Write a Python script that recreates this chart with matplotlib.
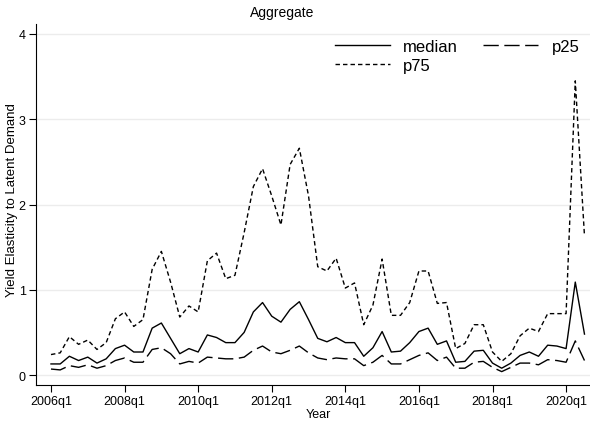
import matplotlib
matplotlib.use("Agg")
import matplotlib.pyplot as plt
import numpy as np

plt.rcParams['font.family'] = ['Liberation Sans', 'DejaVu Sans']

# quarterly series, 2006q1 .. 2020q3
start_year = 2006
median = [0.13, 0.13, 0.22, 0.17, 0.21, 0.14, 0.19, 0.31, 0.35, 0.27,
          0.27, 0.55, 0.61, 0.43, 0.25, 0.31, 0.27, 0.47, 0.44, 0.38,
          0.38, 0.50, 0.74, 0.85, 0.69, 0.62, 0.77, 0.86, 0.65, 0.43,
          0.39, 0.44, 0.38, 0.38, 0.22, 0.32, 0.51, 0.27, 0.28, 0.38,
          0.51, 0.55, 0.36, 0.40, 0.15, 0.16, 0.28, 0.29, 0.14, 0.08,
          0.14, 0.23, 0.27, 0.22, 0.35, 0.34, 0.31, 1.09, 0.48]
p25 = [0.07, 0.06, 0.11, 0.09, 0.12, 0.08, 0.11, 0.17, 0.20, 0.15,
       0.15, 0.30, 0.32, 0.25, 0.13, 0.16, 0.14, 0.21, 0.20, 0.19,
       0.19, 0.21, 0.29, 0.34, 0.27, 0.25, 0.29, 0.34, 0.26, 0.20,
       0.18, 0.20, 0.19, 0.19, 0.11, 0.15, 0.23, 0.13, 0.13, 0.18,
       0.23, 0.26, 0.17, 0.21, 0.08, 0.08, 0.15, 0.16, 0.09, 0.04,
       0.09, 0.14, 0.14, 0.12, 0.18, 0.17, 0.15, 0.40, 0.17]
p75 = [0.24, 0.26, 0.45, 0.36, 0.41, 0.30, 0.38, 0.66, 0.74, 0.57,
       0.65, 1.24, 1.45, 1.09, 0.68, 0.81, 0.74, 1.34, 1.43, 1.13,
       1.17, 1.67, 2.21, 2.42, 2.10, 1.76, 2.47, 2.66, 2.10, 1.27,
       1.22, 1.37, 1.02, 1.08, 0.59, 0.82, 1.36, 0.70, 0.70, 0.85,
       1.22, 1.22, 0.84, 0.85, 0.31, 0.37, 0.59, 0.59, 0.27, 0.16,
       0.25, 0.46, 0.55, 0.51, 0.72, 0.72, 0.72, 3.45, 1.63]

t = np.arange(len(median))
tick_pos = np.arange(0, len(median), 8)
tick_labels = ['%dq1' % (start_year + i // 4) for i in tick_pos]

fig = plt.figure(figsize=(5.9, 4.27), dpi=100)
ax = fig.add_axes([36 / 590, 1 - 386 / 427, 554 / 590, 361 / 427])

l_med, = ax.plot(t, median, color='black', lw=1.0, label='median')
l_p25, = ax.plot(t, p25, color='black', lw=1.0, dashes=(11, 4), label='p25')
l_p75, = ax.plot(t, p75, color='black', lw=1.0, dashes=(3.2, 2.2), label='p75')

ax.set_xlim(-1.63, 58.6)
ax.set_ylim(-0.117, 4.117)
ax.set_yticks([0, 1, 2, 3, 4])
ax.set_xticks(tick_pos)
ax.set_xticklabels(tick_labels)
ax.tick_params(labelsize=9, length=5, width=0.8, color='black', pad=2.5)
ax.grid(axis='y', color='#ececec', lw=1.0)
ax.set_axisbelow(True)
for s in ['top', 'right']:
    ax.spines[s].set_visible(False)
for s in ['left', 'bottom']:
    ax.spines[s].set_linewidth(0.8)

fig.text(318 / 590, 1 - 415 / 427, 'Year', ha='center', va='center', fontsize=9)
fig.text(12 / 590, 1 - 200 / 427, 'Yield Elasticity to Latent Demand', ha='center',
         va='center', rotation=90, fontsize=9.5)
fig.text(282.5 / 590, 1 - 13 / 427, 'Aggregate', ha='center', va='center', fontsize=10)

# order so entries fill row by row: median, p25 / p75
leg = ax.legend([l_med, l_p75, l_p25], ['median', 'p75', 'p25'], ncol=2,
                loc='upper left', bbox_to_anchor=((335 - 36) / 554, (386 - 40) / 361),
                frameon=False, fontsize=12, handlelength=3.3, handletextpad=0.8,
                columnspacing=1.5, labelspacing=0.25, borderaxespad=0.0, borderpad=0.0)

fig.savefig('out.png', dpi=100)
